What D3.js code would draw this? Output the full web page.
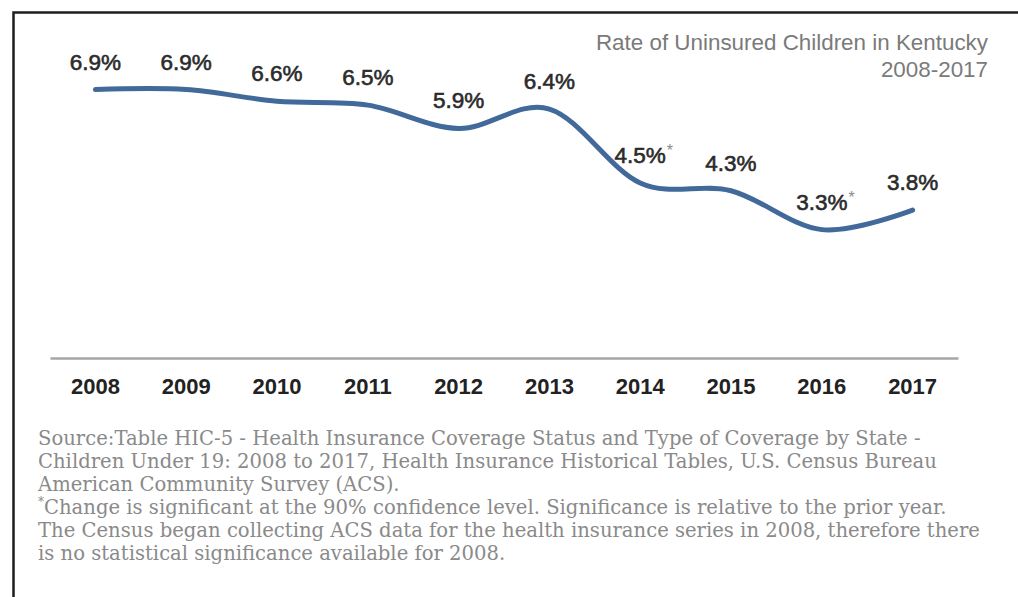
<!DOCTYPE html>
<html>
<head>
<meta charset="utf-8">
<script src="https://cdn.jsdelivr.net/npm/d3@7"></script>
<style>
  html, body { margin: 0; padding: 0; background: #fff; }
  svg { display: block; }
</style>
</head>
<body>
<svg id="chart" width="1018" height="597"></svg>
<script>
const years = ["2008","2009","2010","2011","2012","2013","2014","2015","2016","2017"];
const rates = [6.9, 6.9, 6.6, 6.5, 5.9, 6.4, 4.5, 4.3, 3.3, 3.8];
const significant = [false, false, false, false, false, false, true, false, true, false];
const titleLines = ["Rate of Uninsured Children in Kentucky", "2008-2017"];
const footnoteLines = [
  "Source:Table HIC-5 - Health Insurance Coverage Status and Type of Coverage by State -",
  "Children Under 19: 2008 to 2017, Health Insurance Historical Tables, U.S. Census Bureau",
  "American Community Survey (ACS).",
  "*Change is significant at the 90% confidence level. Significance is relative to the prior year.",
  "The Census began collecting ACS data for the health insurance series in 2008, therefore there",
  "is no statistical significance available for 2008."
];

const svg = d3.select("#chart");

// frame
svg.append("path")
  .attr("d", "M13.5,597 L13.5,12.5 L1018,12.5")
  .attr("fill", "none").attr("stroke", "#1e1e1e").attr("stroke-width", 2.5);

const x = d3.scaleBand().domain(years).range([50, 958]).padding(0);
const y = d3.scaleLinear().domain([0, 8]).range([358, 358 - 8 * 38.9]);
const cx = d => x(d) + x.bandwidth() / 2;

// axis
const axis = d3.axisBottom(x).tickSize(0).tickSizeOuter(0).tickPadding(20);
const gAxis = svg.append("g").attr("transform", "translate(0,358)").call(axis);
gAxis.select(".domain").attr("stroke", "#a6a6a6").attr("stroke-width", 2.5);
gAxis.selectAll("text")
  .attr("font-family", "Liberation Sans, Arial, sans-serif")
  .attr("font-size", 22).attr("font-weight", "bold").attr("fill", "#222");

// line
const line = d3.line()
  .x((d, i) => cx(years[i]))
  .y(d => y(d))
  .curve(d3.curveCardinal.tension(0));
svg.append("path")
  .datum(rates)
  .attr("d", line)
  .attr("fill", "none")
  .attr("stroke", "#41699a")
  .attr("stroke-width", 5)
  .attr("stroke-linecap", "round");

// value labels
const lbl = svg.append("g")
  .attr("font-family", "Liberation Sans, Arial, sans-serif")
  .attr("font-size", 22.5).attr("fill", "#2b2b2b");
rates.forEach((v, i) => {
  const t = lbl.append("text")
    .attr("x", cx(years[i]))
    .attr("y", y(v) - 20)
    .attr("text-anchor", "middle")
    .attr("stroke", "#2b2b2b").attr("stroke-width", 0.6)
    .text(v.toFixed(1) + "%");
  if (significant[i]) {
    const w = t.node().getComputedTextLength();
    lbl.append("text")
      .attr("x", cx(years[i]) + w / 2 + 1)
      .attr("y", y(v) - 27)
      .attr("font-size", 16).attr("fill", "#8a8a8a")
      .text("*");
  }
});

// title
const title = svg.append("g")
  .attr("font-family", "Liberation Sans, Arial, sans-serif")
  .attr("font-size", 22.4).attr("fill", "#7a7a7a").attr("text-anchor", "end");
titleLines.forEach((s, i) => {
  title.append("text").attr("x", 988).attr("y", 50 + i * 27).text(s);
});

// footnotes
const foot = svg.append("g")
  .attr("font-family", "DejaVu Serif, Georgia, serif")
  .attr("font-size", 19.6).attr("fill", "#8a8a8a");
footnoteLines.forEach((s, i) => {
  const t = foot.append("text").attr("x", 38).attr("y", 445 + i * 23);
  if (s.startsWith("*")) {
    t.append("tspan").attr("font-size", 12).attr("dy", -8).text("*");
    t.append("tspan").attr("dy", 8).text(s.slice(1));
  } else {
    t.text(s);
  }
});
</script>
</body>
</html>
